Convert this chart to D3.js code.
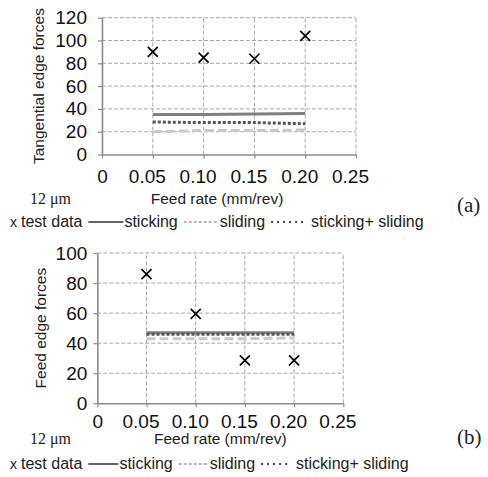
<!DOCTYPE html>
<html><head><meta charset="utf-8">
<script src="https://cdn.jsdelivr.net/npm/d3@7"></script>
<style>
body{margin:0;background:#fff;}
svg{display:block;font-family:"Liberation Sans",Arial,sans-serif;}
</style></head>
<body>
<svg id="c" width="488" height="477"></svg>
<script>
// ---------- data ----------
const feedRates = [0.05, 0.10, 0.15, 0.20];
const xTickValues = [0, 0.05, 0.10, 0.15, 0.20, 0.25];
const xTickLabels = ["0", "0.05", "0.10", "0.15", "0.20", "0.25"];

// (a) tangential edge forces
const tanTest = [90, 85, 84, 104];
const tanSticking = [35, 35, 35.5, 36];
const tanSliding = [20, 21, 21, 21.5];
const tanStickSlide = [28.5, 28, 28, 27];
const tanYTicks = [0, 20, 40, 60, 80, 100, 120];

// (b) feed edge forces
const feedTest = [86, 59.5, 28.5, 28.5];
const feedSticking = [47, 47, 47, 47];
const feedSliding = [43, 43, 43, 43.5];
const feedStickSlide = [46, 46, 46, 46];
const feedYTicks = [0, 20, 40, 60, 80, 100];

const legendLabels = ["test data", "sticking", "sliding", "sticking+ sliding"];

// ---------- drawing ----------
const svg = d3.select("#c");
const styles = {
  sticking: {stroke:"#808080", width:3, dash:null},
  sliding: {stroke:"#c9c9c9", width:3, dash:"9,4"},
  stickslide: {stroke:"#555", width:3, dash:"3,2"}
};

function panel(cfg){
  const g = svg.append("g");
  const x = d3.scaleLinear().domain([0,0.25]).range([cfg.x0, cfg.x1]);
  const y = d3.scaleLinear().domain([0,cfg.yMax]).range([cfg.y0, cfg.y1]);

  // grid
  g.append("g").selectAll("line").data(cfg.yTicks.filter(d=>d>0)).join("line")
    .attr("x1", x(0)).attr("x2", x(0.25)).attr("y1", d=>y(d)).attr("y2", d=>y(d))
    .attr("stroke","#a8a8a8").attr("stroke-width",1).attr("stroke-dasharray","4,2");
  g.append("g").selectAll("line").data(xTickValues.filter(d=>d>0)).join("line")
    .attr("x1", d=>x(d)).attr("x2", d=>x(d)).attr("y1", y(0)).attr("y2", y(cfg.yMax))
    .attr("stroke","#a8a8a8").attr("stroke-width",1).attr("stroke-dasharray","4,2");

  // axes
  const xa = g.append("g").attr("transform",`translate(0,${y(0)})`)
    .call(d3.axisBottom(x).tickValues(xTickValues).tickFormat((d,i)=>xTickLabels[i]).tickSize(4).tickPadding(cfg.xPad).tickSizeOuter(0));
  const ya = g.append("g").attr("transform",`translate(${x(0)},0)`)
    .call(d3.axisLeft(y).tickValues(cfg.yTicks).tickSize(4).tickPadding(cfg.yPad).tickSizeOuter(0));
  [xa, ya].forEach(a=>{
    a.select(".domain").attr("stroke","#8c8c8c").attr("stroke-width",1.6);
    a.selectAll(".tick line").attr("stroke","#8c8c8c").attr("stroke-width",1.2);
    a.selectAll("text").attr("fill","#111").style("font-size","19px").style("font-family",'"Liberation Sans",Arial,sans-serif');
  });
  xa.selectAll(".tick text").attr("dx",(d)=> d>0 ? -6 : 0);

  // model lines
  const line = d3.line().x((d,i)=>x(feedRates[i])).y(d=>y(d));
  [["sliding",cfg.sliding],["sticking",cfg.sticking],["stickslide",cfg.stickslide]].forEach(([k,vals])=>{
    const s = styles[k];
    g.append("path").datum(vals).attr("d",line).attr("fill","none")
      .attr("stroke",s.stroke).attr("stroke-width",s.width)
      .attr("stroke-dasharray",s.dash);
  });

  // test data markers
  const m = 5;
  const mk = g.append("g").selectAll("g").data(cfg.test).join("g")
    .attr("transform",(d,i)=>`translate(${x(feedRates[i])},${y(d)})`);
  mk.append("path").attr("d",`M${-m},${-m}L${m},${m}M${-m},${m}L${m},${-m}`)
    .attr("stroke","#000").attr("stroke-width",1.7).attr("fill","none");

  // y title
  svg.append("text").attr("transform",`translate(${cfg.titleX},${(y(0)+y(cfg.yMax))/2}) rotate(-90)`)
    .attr("text-anchor","middle").style("font-size","15.5px").attr("fill","#222").text(cfg.yTitle);
  // x title
  svg.append("text").attr("x",x(0.125) + cfg.xTitleDx).attr("y",cfg.xTitleY)
    .attr("text-anchor","middle").style("font-size","15.5px").attr("fill","#222").text("Feed rate (mm/rev)");
  // 12 um
  svg.append("text").attr("x",30).attr("y",cfg.xTitleY)
    .style("font-family",'"Liberation Serif","Times New Roman",serif').style("font-size","16px").attr("fill","#222").text("12 μm");
  // panel label
  svg.append("text").attr("x",457).attr("y",cfg.labelY)
    .style("font-family",'"Liberation Serif","Times New Roman",serif').style("font-size","21px").attr("fill","#222").text(cfg.label);

  // legend
  const lg = svg.append("g").attr("transform",`translate(0,${cfg.legY})`);
  const fs = "16px";
  lg.append("text").attr("x",10).attr("y",0).style("font-size","14px").attr("fill","#222").text("x");
  let cx = 21;
  const keys = [null,"sticking","sliding","stickslide"];
  legendLabels.forEach((lab,i)=>{
    if(keys[i]){
      const L = cfg.legLine;
      lg.append("line").attr("x1",cx).attr("x2",cx+L).attr("y1",-5).attr("y2",-5)
        .attr("stroke", keys[i]==="sticking" ? "#666" : (keys[i]==="sliding" ? "#b8b8b8" : "#444"))
        .attr("stroke-width", 2)
        .attr("stroke-dasharray", keys[i]==="sliding" ? "3,2" : (keys[i]==="stickslide" ? "2,4" : null));
      cx += L + (keys[i]==="stickslide" ? 5 : 1);
    }
    const t = lg.append("text").attr("x",cx).attr("y",0).style("font-size",fs).attr("fill","#222").text(lab);
    cx += t.node().getComputedTextLength() + 6;
  });
}

panel({x0:102, x1:356, y0:154.5, y1:17.7, yMax:120, yTicks:tanYTicks,
  test:tanTest, sticking:tanSticking, sliding:tanSliding, stickslide:tanStickSlide,
  xPad:11, yPad:11, titleX:44, yTitle:"Tangential edge forces",
  xTitleDx:-12, xTitleY:204, label:"(a)", labelY:212, legY:227, legLine:35});

panel({x0:97.3, x1:343.3, y0:403.3, y1:253, yMax:100, yTicks:feedYTicks,
  test:feedTest, sticking:feedSticking, sliding:feedSliding, stickslide:feedStickSlide,
  xPad:7, yPad:6, titleX:46, yTitle:"Feed edge forces",
  xTitleDx:0, xTitleY:444, label:"(b)", labelY:444, legY:469, legLine:30});
</script>
</body></html>
